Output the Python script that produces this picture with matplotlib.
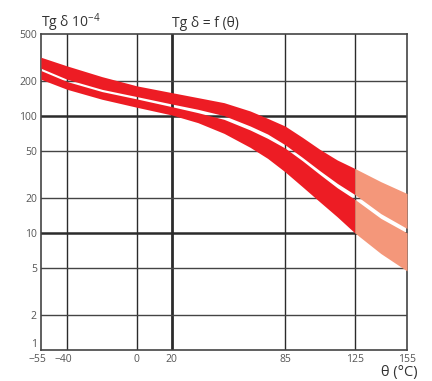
import numpy as np
import matplotlib
matplotlib.use("Agg")
import matplotlib.pyplot as plt
from matplotlib.transforms import ScaledTranslation

# temperatures (°C) where the band edges were read
theta = [-55, -40, -20, 0, 20, 35, 50, 65, 75, 85, 95, 105, 115, 125, 140, 155]

# upper band (top / bottom edges), tg delta x 10^-4
upper_top = [318, 268, 217, 181, 158.5, 143.6, 130, 110.4, 95.5, 82.1, 65.6, 51.8, 42, 35.6, 27.4, 21.7]
upper_bot = [256, 206, 169, 146.5, 126.7, 114.1, 100.7, 82.1, 70.1, 56.8, 44.2, 34, 26.5, 21.3, 14.6, 10.9]

# lower band (top / bottom edges)
lower_top = [244.7, 197, 161.7, 139.9, 120.2, 106.8, 93.6, 75.9, 64.4, 53.2, 41.4, 31.6, 24.3, 19.4, 13.3, 10]
lower_bot = [206, 169, 139, 118.7, 102, 87.7, 71, 53.9, 43.4, 33.3, 24.8, 18.4, 13.7, 10, 6.65, 4.72]

x_ticks = [-55, -40, 0, 20, 85, 125, 155]
x_labels = ["\u221255", "\u221240", "0", "20", "85", "125", "155"]
y_ticks = [1, 2, 5, 10, 20, 50, 100, 200, 500]
y_labels = ["1", "2", "5", "10", "20", "50", "100", "200", "500"]

RED = "#ED1C24"
SALMON = "#F4977A"
GRID = "#2b2b2b"
TXT = "#555555"

plt.rcParams["font.family"] = ["Open Sans", "DejaVu Sans"]
plt.rcParams["mathtext.fontset"] = "custom"
plt.rcParams["mathtext.rm"] = "Open Sans"

fig = plt.figure(figsize=(4.32, 3.81), dpi=100)
ax = fig.add_axes([41 / 432, 1 - 349.7 / 381, 366 / 432, (349.7 - 34.3) / 381])

x = np.array(theta)
cut = theta.index(125)
hot = slice(0, cut + 1)
warm = slice(cut, len(theta))

for top, bot in [(upper_top, upper_bot), (lower_top, lower_bot)]:
    top = np.array(top)
    bot = np.array(bot)
    ax.fill_between(x[hot], bot[hot], top[hot], color=RED, lw=0, zorder=3)
    ax.fill_between(x[warm], bot[warm], top[warm], color=SALMON, lw=0, zorder=3)

ax.set_yscale("log")
ax.set_xlim(-55, 155)
ax.set_ylim(1, 500)

ax.set_xticks(x_ticks)
ax.set_xticklabels(x_labels)
ax.set_yticks(y_ticks)
ax.set_yticklabels(y_labels)
ax.minorticks_off()
ax.tick_params(length=0, labelsize=7.5, colors=TXT, pad=3)

# "1" sits on the axis, minus labels hang to the left
ax.get_yticklabels()[0].set_va("bottom")
shift = ScaledTranslation(-0.04, 0, fig.dpi_scale_trans)
for lab in ax.get_xticklabels()[:2]:
    lab.set_transform(lab.get_transform() + shift)

# grid: thin lines, thicker at 20 °C, 10 and 100
for v in [-40, 0, 85, 125]:
    ax.axvline(v, color=GRID, lw=1.0, zorder=1)
ax.axvline(20, color=GRID, lw=2.0, zorder=1)
for v in [2, 5, 20, 50, 200]:
    ax.axhline(v, color="#444444", lw=1.0, zorder=1)
for v in [10, 100]:
    ax.axhline(v, color=GRID, lw=1.8, zorder=1)

for s in ax.spines.values():
    s.set_color("#444444")
    s.set_linewidth(1.2)

fig.text(41 / 432, 1 - 27 / 381, r"Tg δ 10$^{-4}$", fontsize=10,
         color="#333333", va="baseline", ha="left")
fig.text(172 / 432, 1 - 27 / 381, "Tg δ = f (θ)", fontsize=10,
         color="#333333", va="baseline", ha="left")
fig.text(418 / 432, 1 - 376 / 381, "θ (°C)", fontsize=10.5,
         color="#333333", va="baseline", ha="right")

fig.savefig("out.png", dpi=100)
